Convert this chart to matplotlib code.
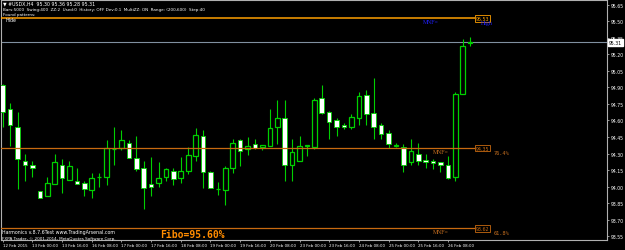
from matplotlib import pyplot as plt
import matplotlib.transforms as mtransforms
import numpy as np

# USDX H4 candles
opens = [94.92, 94.70, 94.54, 94.23, 94.20, 93.96, 93.91, 94.02, 94.20, 94.06,
         94.05, 94.03, 93.97, 94.09, 94.09, 94.34, 94.35, 94.40, 94.26, 94.17,
         94.02, 94.03, 94.09, 94.14, 94.08, 94.14, 94.28, 94.46, 94.13, 93.98,
         93.97, 94.17, 94.42, 94.34, 94.39, 94.36, 94.37, 94.54, 94.62, 94.20,
         94.23, 94.37, 94.36, 94.80, 94.68, 94.60, 94.56, 94.54, 94.62, 94.83,
         94.67, 94.56, 94.49, 94.37, 94.36, 94.22, 94.30, 94.24, 94.23, 94.22,
         94.20, 94.09, 94.84, 95.30]
highs = [94.93, 94.76, 94.68, 94.30, 94.23, 93.96, 94.09, 94.30, 94.25, 94.23,
         94.17, 94.05, 94.12, 94.12, 94.42, 94.54, 94.51, 94.42, 94.46, 94.23,
         94.27, 94.22, 94.17, 94.17, 94.27, 94.36, 94.53, 94.51, 94.14, 94.04,
         94.19, 94.43, 94.43, 94.45, 94.43, 94.38, 94.70, 94.79, 94.79, 94.43,
         94.46, 94.38, 94.80, 94.92, 94.69, 94.62, 94.58, 94.66, 94.86, 94.88,
         94.99, 94.58, 94.51, 94.40, 94.39, 94.43, 94.40, 94.30, 94.25, 94.22,
         94.28, 94.86, 95.34, 95.36]
lows = [94.54, 94.37, 93.98, 94.05, 94.09, 93.90, 93.91, 94.02, 93.94, 94.06,
        94.02, 93.91, 93.90, 94.00, 94.01, 94.20, 94.33, 94.26, 94.14, 93.80,
        93.91, 94.00, 94.05, 94.01, 94.03, 94.11, 94.23, 93.99, 93.99, 93.92,
        93.83, 94.12, 94.19, 94.29, 94.34, 94.33, 94.37, 94.39, 94.05, 94.05,
        94.23, 94.28, 94.34, 94.66, 94.43, 94.46, 94.52, 94.52, 94.56, 94.56,
        94.43, 94.43, 94.35, 94.36, 94.13, 94.20, 94.20, 94.17, 94.16, 94.13,
        94.07, 94.05, 94.84, 95.28]
closes = [94.68, 94.56, 94.25, 94.20, 94.17, 93.90, 94.03, 94.22, 94.08, 94.19,
          94.02, 93.98, 94.08, 94.09, 94.35, 94.34, 94.42, 94.26, 94.16, 93.99,
          94.00, 94.08, 94.16, 94.07, 94.14, 94.29, 94.47, 94.13, 93.99, 93.98,
          94.17, 94.40, 94.32, 94.37, 94.35, 94.38, 94.53, 94.62, 94.20, 94.31,
          94.37, 94.38, 94.79, 94.67, 94.59, 94.54, 94.54, 94.63, 94.82, 94.66,
          94.54, 94.48, 94.39, 94.38, 94.20, 94.32, 94.23, 94.22, 94.21, 94.20,
          94.08, 94.84, 95.28, 95.31]

time_labels = ["12 Feb 2015", "13 Feb 00:00", "13 Feb 16:00", "16 Feb 08:00",
               "17 Feb 00:00", "17 Feb 16:00", "18 Feb 08:00", "19 Feb 00:00",
               "19 Feb 16:00", "20 Feb 08:00", "23 Feb 00:00", "23 Feb 16:00",
               "24 Feb 08:00", "25 Feb 00:00", "25 Feb 16:00", "26 Feb 08:00"]
price_ticks = [95.65, 95.50, 95.35, 95.20, 95.05, 94.90, 94.75, 94.60,
               94.45, 94.30, 94.15, 94.00, 93.85, 93.70, 93.55]

last_price = 95.31
fibo_levels = [95.53, 94.35, 93.62]
fibo_tags = ["High", "76.4%", "61.8%"]

W, H = 625, 251
fig = plt.figure(figsize=(W / 100, H / 100), dpi=100, facecolor='black')
ax = fig.add_axes([1 / W, 10 / H, 606 / W, 240 / H])
ax.set_facecolor('black')

x = np.arange(len(opens))
o, h, l, c = map(np.array, (opens, highs, lows, closes))
green = '#00d000'

ax.vlines(x, l, h, color=green, lw=0.8, zorder=2)
bull = c > o
bear = c < o
flat = c == o
ax.bar(x[bull], (c - o)[bull], bottom=o[bull], width=0.62,
       facecolor='black', edgecolor=green, lw=0.9, zorder=3)
ax.bar(x[bear], (o - c)[bear], bottom=c[bear], width=0.62,
       facecolor='white', edgecolor=green, lw=0.6, zorder=3)
ax.hlines(c[flat], x[flat] - 0.31, x[flat] + 0.31, color=green, lw=0.9, zorder=3)

ax.set_xlim(-0.23, 81.44)
ax.set_ylim(93.514, 95.695)

# current price line
ax.axhline(last_price, color='#8090a0', lw=0.8, zorder=1)

# fibo / harmonic levels
end_x = 63.65
lvl_colors = ['#ffa000', '#c86a10', '#c86a10']
for lv, tag, col in zip(fibo_levels, fibo_tags, lvl_colors):
    ax.hlines(lv, -1, end_x, color=col, lw=1.1 if col == '#ffa000' else 0.9, zorder=4)
    ax.text(end_x + 0.1, lv, f"{lv:.2f}", color=col, fontsize=3.4, va='center', ha='left',
            family='DejaVu Sans', zorder=5,
            bbox=dict(facecolor='black', edgecolor=col, lw=0.6, pad=0.6))
ax.text(56.6, fibo_levels[0] - 0.03, "MNF=", color='#2020ff', fontsize=4.2,
        family='Liberation Serif', va='center', ha='left', zorder=5)
ax.text(64.4, fibo_levels[0] - 0.04, fibo_tags[0], color='#2020ff', fontsize=4.2,
        family='Liberation Serif', va='center', ha='left', zorder=5)
for lv, tag in zip(fibo_levels[1:], fibo_tags[1:]):
    ax.text(58.0, lv - 0.03, "MNF=", color='#c87020', fontsize=4.2,
            family='Liberation Serif', va='center', ha='left', zorder=5)
    ax.text(66.1, lv - 0.04, tag, color='#c87020', fontsize=3.8,
            family='DejaVu Sans Mono', va='center', ha='left', zorder=5)

# axes styling
for s in ax.spines.values():
    s.set_color('#b0b0b0')
    s.set_linewidth(0.8)
ax.yaxis.tick_right()
ax.set_yticks(price_ticks)
ax.set_yticklabels([f"{p:.2f}" for p in price_ticks])
ax.tick_params(axis='y', colors='#b0b0b0', labelcolor='white', labelsize=3.3,
               length=1.5, width=0.6, pad=1)
ax.set_xticks(x[::4])
ax.set_xticklabels(time_labels)
for t in ax.get_xticklabels():
    t.set_horizontalalignment('left')
ax.tick_params(axis='x', colors='#b0b0b0', labelcolor='white', labelsize=2.9,
               length=1.5, width=0.6, pad=1)

# last price tag on the axis
trans = mtransforms.blended_transform_factory(ax.transAxes, ax.transData)
ax.text(1.003, last_price, f"{last_price:.2f}", transform=trans, color='black',
        fontsize=3.3, va='center', ha='left', clip_on=False,
        bbox=dict(facecolor='white', edgecolor='white', pad=0.6))

# header / footer texts
def ftext(px, py, s, **kw):
    fig.text(px / W, 1 - py / H, s, va='center', ha='left', **kw)

ftext(3, 4, "\u25bc #USDX,H4  95.30 95.36 95.28 95.31", color='white', fontsize=3.4)
ftext(3, 10, "Bars:5000  Swing:400  ZZ:2  Used:0  History: OFF Dev:0.1  MultiZZ: ON  "
             "Range: (200,600)  Step:40", color='white', fontsize=3.0)
ftext(3, 15, "Found patterns:", color='white', fontsize=3.0)
ftext(6, 21, "Hide", color='white', fontsize=3.4)
ftext(2, 233, "Harmonics v.8.7.6Test www.TradingArsenal.com", color='white', fontsize=3.4)
ftext(2, 239.5, "FXPA Trader, \u00a9 2001-2014, MetaQuotes Software Corp.", color='white',
      fontsize=3.0)
ftext(160, 235, "Fibo=95.60%", color='#ff8c00', fontsize=7, family='DejaVu Sans Mono',
      fontweight='bold')

fig.savefig("out.png", dpi=100, facecolor='black')
